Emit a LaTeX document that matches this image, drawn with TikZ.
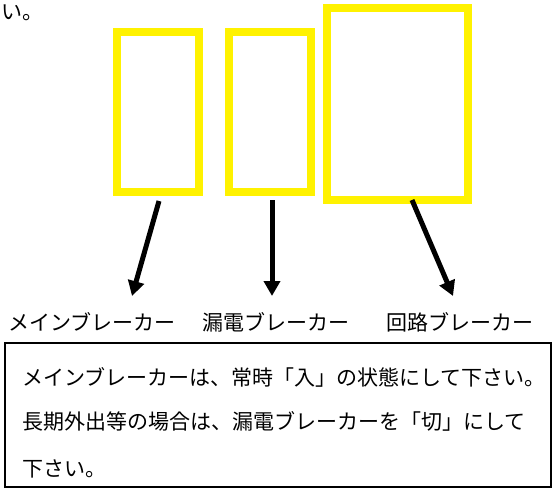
\documentclass[tikz,border=0pt]{standalone}
\usepackage{fontspec}
\newfontfamily\jp{Noto Sans CJK JP}
\usetikzlibrary{arrows.meta}
\tikzset{
  brk/.style={draw=yellow, line width=8pt, inner sep=0pt, minimum width=#1},
  pointer/.style={line width=5pt, -{Triangle[length=15pt,width=16pt]}},
  lbl/.style={anchor=west, inner sep=0pt, font=\jp\fontsize{21pt}{21pt}\selectfont},
  note/.style={draw=black, line width=1.3pt, inner sep=0pt, minimum width=546pt, minimum height=144pt},
}
\begin{document}
\begin{tikzpicture}[x=1pt,y=-1pt]
\useasboundingbox (0,0) rectangle (553,489);
% partial text at top-left
\node[lbl, anchor=base west] (cut) at (1,20) {い。};
% breakers
\node[brk=82pt, minimum height=160pt] (main) at (158,112) {};
\node[brk=82pt, minimum height=160pt] (leak) at (270,112) {};
\node[brk=141pt, minimum height=192pt] (circ) at (397.5,104) {};
% labels
\node[lbl] (lmain) at (8,322) {メインブレーカー};
\node[lbl] (lleak) at (202,322) {漏電ブレーカー};
\node[lbl] (lcirc) at (386,322) {回路ブレーカー};
% arrows
\coordinate (s1) at (159,201); \coordinate (t1) at (132,296);
\coordinate (s2) at (272,200); \coordinate (t2) at (272,296);
\coordinate (s3) at (412,200); \coordinate (t3) at (453,296);
\draw[pointer] (s1) -- (t1);
\draw[pointer] (s2) -- (t2);
\draw[pointer] (s3) -- (t3);
% note box
\node[note] (box) at (278,415) {};
\node[lbl] (n1) at (22,377) {メインブレーカーは、常時「入」の状態にして下さい。};
\node[lbl] (n2) at (22,421) {長期外出等の場合は、漏電ブレーカーを「切」にして};
\node[lbl] (n3) at (22,469) {下さい。};
\end{tikzpicture}
\end{document}
